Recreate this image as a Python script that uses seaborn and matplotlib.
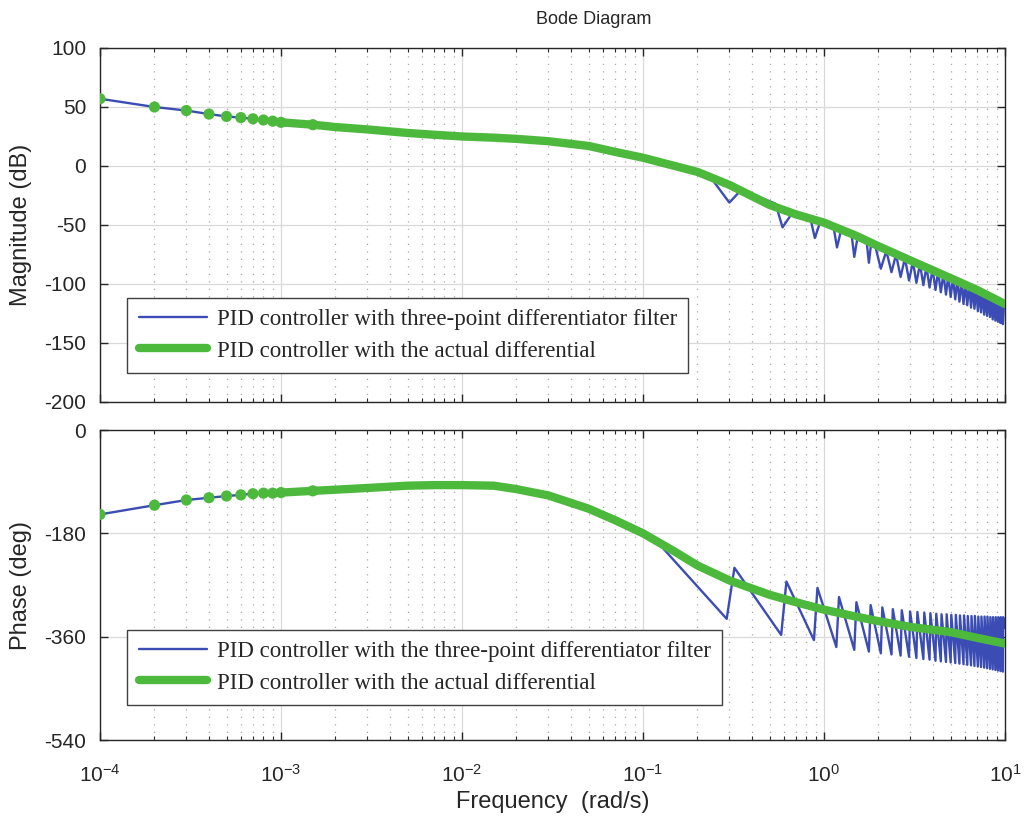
import numpy as np
import matplotlib
matplotlib.use("Agg")
import matplotlib.pyplot as plt
import seaborn as sns
from matplotlib.lines import Line2D
from matplotlib.ticker import LogLocator, LogFormatterSciNotation, NullFormatter

# data (frequency in rad/s)
green_w = [1e-4, 2e-4, 3e-4, 4e-4, 5e-4, 6e-4, 7e-4, 8e-4, 9e-4, 1e-3,
           1.5e-3, 2e-3, 3e-3, 5e-3, 7e-3, 1e-2, 1.5e-2, 2e-2, 3e-2, 5e-2,
           7e-2, 0.1, 0.15, 0.2, 0.3, 0.5, 0.7, 1.0, 1.5, 2.0, 3.0, 5.0, 7.0, 10.0]
green_mag = [57, 50, 47, 44, 42, 41, 40, 39, 38, 37,
             35, 33, 31, 28, 26.5, 25, 24, 23, 21, 17,
             12, 7, 0, -5, -16, -33, -41, -48, -59, -68, -80, -95, -105, -117]
green_phase = [-147, -131, -122, -118, -115, -113, -111, -110, -110, -109,
               -106, -104, -101, -97, -96, -96, -97, -103, -114, -137,
               -157, -180, -212, -236, -262, -287, -300, -313, -325, -333, -343, -352, -362, -372]

# blue (three-point filter) above where it leaves the green curve
blue_mag_w = [0.24, 0.30, 0.35, 0.54, 0.59, 0.66, 0.84, 0.89, 0.95, 1.13, 1.18, 1.24,
              1.42, 1.47, 1.53, 1.72, 1.77, 1.82, 1.92, 2.06, 2.21, 2.36, 2.50, 2.65,
              2.80, 2.95, 3.10, 3.24, 3.39, 3.54, 3.68, 3.83, 3.98, 4.13, 4.27, 4.42,
              4.57, 4.72, 4.86, 5.01, 5.16, 5.31, 5.45, 5.60, 5.75, 5.90, 6.04, 6.19,
              6.34, 6.49, 6.63, 6.78, 6.93, 7.08, 7.22, 7.37, 7.52, 7.67, 7.81, 7.96,
              8.11, 8.26, 8.40, 8.55, 8.70, 8.85, 8.99, 9.14, 9.29, 9.44, 9.58, 9.73,
              9.88, 10.0]
blue_mag_db = [-11, -31, -20, -32, -52, -41, -44, -61, -48, -52, -69, -55,
               -58, -77, -61, -64, -82, -66, -68, -87, -72, -90, -75, -94,
               -78, -97, -81, -99, -83, -101, -85, -103, -87, -105, -89, -107,
               -91, -109, -93, -111, -95, -113, -96, -115, -98, -117, -99, -118,
               -100, -120, -102, -121, -103, -123, -104, -124, -106, -126, -107, -127,
               -108, -128, -109, -130, -111, -131, -112, -132, -113, -133, -114, -134,
               -116, -118]
blue_ph_w = [0.12, 0.29, 0.32, 0.58, 0.62, 0.88, 0.92, 1.17, 1.21, 1.47, 1.51,
             1.77, 1.81, 2.06, 2.10, 2.36, 2.40, 2.65, 2.69, 2.95, 2.99, 3.24, 3.28,
             3.54, 3.58, 3.83, 3.87, 4.13, 4.17, 4.42, 4.46, 4.72, 4.76, 5.01, 5.05,
             5.31, 5.35, 5.60, 5.64, 5.90, 5.94, 6.19, 6.23, 6.49, 6.53, 6.78, 6.82,
             7.08, 7.12, 7.37, 7.41, 7.67, 7.71, 7.96, 8.00, 8.26, 8.30, 8.55, 8.59,
             8.85, 8.89, 9.14, 9.18, 9.44, 9.48, 9.73, 9.77, 10.0]
blue_ph_deg = [-195, -329, -240, -357, -264, -366, -275, -378, -291, -383, -300,
               -386, -305, -389, -309, -391, -312, -393, -314, -395, -316, -397, -317,
               -399, -318, -400, -319, -402, -320, -403, -321, -404, -321, -405, -322,
               -406, -322, -407, -323, -408, -323, -409, -324, -410, -324, -411, -324,
               -412, -325, -413, -325, -414, -325, -415, -325, -416, -326, -417, -326,
               -418, -326, -419, -326, -420, -326, -421, -326, -345]

mag_ticks = [100, 50, 0, -50, -100, -150, -200]
phase_ticks = [0, -180, -360, -540]
legend_top = ["PID controller with three-point differentiator filter",
              "PID controller with the actual differential"]
legend_bottom = ["PID controller with the three-point differentiator filter",
                 "PID controller with the actual differential"]

BLUE = "#3b4db5"
GREEN = "#4cb93c"
INK = "#262626"

sns.set_theme(style="ticks")
plt.rcParams['font.family'] = ['Liberation Sans', 'DejaVu Sans']
plt.rcParams['mathtext.default'] = 'regular'
plt.rcParams['axes.unicode_minus'] = False

fig = plt.figure(figsize=(10.25, 8.17), dpi=100)
ax1 = fig.add_axes([100/1025, 1-402/817, 905/1025, 354/817])
ax2 = fig.add_axes([100/1025, 1-740/817, 905/1025, 310/817])

n_low = 10  # points drawn as separate markers
blue_mag_x = green_w[:24] + blue_mag_w
blue_mag_y = green_mag[:24] + blue_mag_db
blue_ph_x = green_w[:22] + blue_ph_w
blue_ph_y = green_phase[:22] + blue_ph_deg

for ax, gy, bx, by in [(ax1, green_mag, blue_mag_x, blue_mag_y),
                       (ax2, green_phase, blue_ph_x, blue_ph_y)]:
    sns.lineplot(x=bx, y=by, ax=ax, color=BLUE, lw=1.7, estimator=None,
                 sort=False, zorder=2)
    sns.lineplot(x=green_w[n_low - 1:], y=gy[n_low - 1:], ax=ax, color=GREEN,
                 lw=6, estimator=None, sort=False, zorder=3,
                 solid_capstyle='round', solid_joinstyle='round')
    sns.scatterplot(x=green_w[:n_low + 1], y=gy[:n_low + 1], ax=ax, color=GREEN,
                    s=65, edgecolor="none", zorder=4)
    ax.set_xscale('log')
    ax.set_xlim(1e-4, 10)
    ax.xaxis.set_major_locator(LogLocator(base=10, numticks=10))
    ax.xaxis.set_minor_locator(LogLocator(base=10, subs=np.arange(2, 10), numticks=20))
    ax.xaxis.set_minor_formatter(NullFormatter())
    ax.grid(which='major', color='#d9d9d9', lw=0.9, ls='-')
    ax.grid(which='minor', axis='x', color='#a8a8a8', lw=0.9, ls=(0, (1, 5)))
    ax.set_axisbelow(True)
    ax.tick_params(which='both', direction='in', top=True, right=True,
                   colors=INK, labelsize=15)
    ax.tick_params(which='major', length=6, width=1, pad=10)
    ax.tick_params(which='minor', length=3, width=0.8)
    ax.tick_params(axis='x', which='major', pad=17)
    for sp in ax.spines.values():
        sp.set_color(INK)
        sp.set_linewidth(1.0)

ax1.set_ylim(-200, 100)
ax1.set_yticks(mag_ticks)
ax1.tick_params(axis='x', which='both', labelbottom=False)
ax2.set_ylim(-540, 0)
ax2.set_yticks(phase_ticks)
ax2.xaxis.set_major_formatter(LogFormatterSciNotation())

ax1.set_ylabel("Magnitude (dB)", fontsize=17, color=INK)
ax2.set_ylabel("Phase (deg)", fontsize=17, color=INK)
ax1.yaxis.set_label_coords(-0.075, 0.5)
ax2.yaxis.set_label_coords(-0.075, 0.5)
ax2.set_xlabel("Frequency  (rad/s)", fontsize=17, color=INK, labelpad=4)
fig.text(594/1025, 1-20/817, "Bode Diagram", fontsize=13, color=INK,
         ha='center', va='center')

handles = [Line2D([], [], color=BLUE, lw=1.7), Line2D([], [], color=GREEN, lw=6)]
for ax, labels, anchor in [(ax1, legend_top, (0.03, 0.082)),
                           (ax2, legend_bottom, (0.03, 0.113))]:
    leg = ax.legend(handles, labels, loc='lower left', bbox_to_anchor=anchor,
                    borderaxespad=0, prop={'family': 'Liberation Serif', 'size': 16.5},
                    frameon=True, fancybox=False, framealpha=1,
                    edgecolor='#404040', handlelength=3.0, borderpad=0.5,
                    labelspacing=0.45, handletextpad=0.4)
    leg.get_frame().set_linewidth(1.0)
    leg.set_zorder(10)

fig.savefig("out.png", dpi=100)
